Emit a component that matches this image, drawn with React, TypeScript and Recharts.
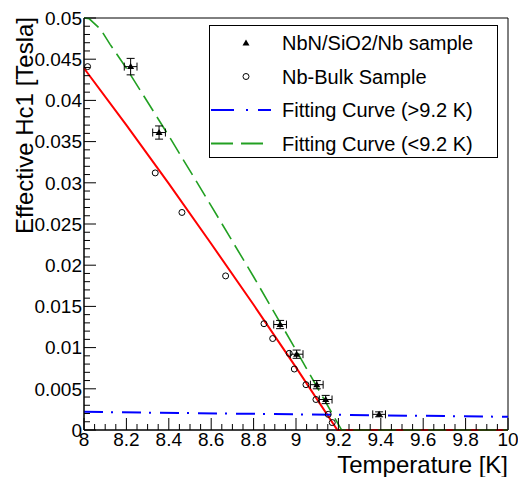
import { ComposedChart, Line, Scatter, XAxis, YAxis, ErrorBar, ReferenceArea, Legend, Label } from 'recharts'

const FONT = '"Liberation Sans", Arial, Helvetica, sans-serif'

const xTicks = [8, 8.2, 8.4, 8.6, 8.8, 9, 9.2, 9.4, 9.6, 9.8, 10]
const yTicks = [0, 0.005, 0.01, 0.015, 0.02, 0.025, 0.03, 0.035, 0.04, 0.045, 0.05]
// minor tick positions (0.05 K and 0.001 T steps)
const xMinorTicks = Array.from({ length: 41 }, (_, i) => +(8 + i * 0.05).toFixed(2))
const yMinorTicks = Array.from({ length: 51 }, (_, i) => +(i * 0.001).toFixed(3))

// NbN/SiO2/Nb sample
const filmT = [8.22, 8.354, 8.925, 9.003, 9.098, 9.14, 9.392]
const filmH = [0.0441, 0.0361, 0.0128, 0.0092, 0.0055, 0.0037, 0.0019]
const filmTErr = [0.03, 0.03, 0.03, 0.03, 0.03, 0.03, 0.03]
const filmHErr = [0.001, 0.0008, 0.0005, 0.0005, 0.0005, 0.0005, 0.0003]

// Nb-Bulk sample
const bulkT = [8.017, 8.336, 8.462, 8.668, 8.849, 8.89, 8.968, 8.992, 9.047, 9.094, 9.152, 9.171]
const bulkH = [0.0441, 0.0312, 0.0264, 0.0187, 0.0129, 0.0111, 0.0093, 0.0074, 0.0055, 0.0037, 0.0019, 0.0009]

// fit curves
const redT = [8, 8.2, 8.4, 8.6, 8.8, 9, 9.195, 10]
const redH = [0.0439, 0.037, 0.0299, 0.0226, 0.0152, 0.0076, 0, 0]
const greenT = [8, 8.025, 8.079, 8.123, 8.2, 8.4, 8.6, 8.8, 9, 9.215, 10]
const greenH = [0.05, 0.0499, 0.0486, 0.0468, 0.0439, 0.0357, 0.0272, 0.0186, 0.0097, 0, 0]
const blueT = [8, 9, 10]
const blueH = [0.0022, 0.0019, 0.0016]

const filmData = filmT.map((t, i) => ({ t, h: filmH[i], et: filmTErr[i], eh: filmHErr[i] }))
const bulkData = bulkT.map((t, i) => ({ t, h: bulkH[i] }))
const redData = redT.map((t, i) => ({ t, h: redH[i] }))
const greenData = greenT.map((t, i) => ({ t, h: greenH[i] }))
const blueData = blueT.map((t, i) => ({ t, h: blueH[i] }))

const legendItems = [
  { name: 'NbN/SiO2/Nb sample', kind: 'triangle' },
  { name: 'Nb-Bulk Sample', kind: 'circle' },
  { name: 'Fitting Curve (>9.2 K)', kind: 'blue' },
  { name: 'Fitting Curve (<9.2 K)', kind: 'green' },
]

const isMajor = (v: number, majors: number[]) => majors.some((m) => Math.abs(m - v) < 1e-9)

const Triangle = (p: any) => (
  <path d={`M${p.cx},${p.cy - 3.5}L${p.cx + 3.5},${p.cy + 2.5}L${p.cx - 3.5},${p.cy + 2.5}Z`} fill="#000" />
)
const OpenCircle = (p: any) => <circle cx={p.cx} cy={p.cy} r={3} fill="none" stroke="#000" strokeWidth={1} />

// ROOT style: ticks point into the frame, labels outside
const XTick = (p: any) => {
  const v = p.payload.value
  const major = isMajor(v, xTicks)
  const y0 = p.y - 3
  return (
    <g>
      <line x1={p.x} x2={p.x} y1={y0} y2={y0 - (major ? 12 : 6)} stroke="#000" />
      {major && <text x={p.x} y={p.y} dy="0.71em" textAnchor="middle" fontSize={19} fill="#000">{String(v)}</text>}
    </g>
  )
}

const YTick = (p: any) => {
  const v = p.payload.value
  const major = isMajor(v, yTicks)
  const x0 = p.x + 2
  return (
    <g>
      <line x1={x0} x2={x0 + (major ? 12 : 6)} y1={p.y} y2={p.y} stroke="#000" />
      {major && <text x={p.x} y={p.y} dy="0.355em" textAnchor="end" fontSize={19} fill="#000">{String(v)}</text>}
    </g>
  )
}

function LegendBox() {
  return (
    <div style={{ width: 289, height: 133, border: '1px solid #000', background: '#fff', boxSizing: 'border-box', fontFamily: FONT }}>
      <svg width={287} height={131}>
        {legendItems.map((it, i) => {
          const y = 17 + i * 33.5
          return (
            <g key={it.name}>
              {it.kind === 'triangle' && <Triangle cx={36} cy={y} />}
              {it.kind === 'circle' && <OpenCircle cx={36} cy={y} />}
              {it.kind === 'blue' && <line x1={1} x2={61} y1={y} y2={y} stroke="#0000ff" strokeWidth={2} strokeDasharray="23 12 2 10" />}
              {it.kind === 'green' && <line x1={1} x2={61} y1={y} y2={y} stroke="#22a022" strokeWidth={2} strokeDasharray="22 8" />}
              <text x={72} y={y + 7} fontSize={20} fill="#000">{it.name}</text>
            </g>
          )
        })}
      </svg>
    </div>
  )
}

export default function App() {
  return (
    <div style={{ position: 'absolute', left: 0, top: 0, background: '#fff' }}>
      <ComposedChart width={518} height={477} margin={{ top: 18, right: 10, bottom: 46, left: 83 }} style={{ fontFamily: FONT }}>
        <XAxis type="number" dataKey="t" domain={[8, 10]} ticks={xMinorTicks} interval={0} height={1}
          tickSize={0} tickMargin={3} tickLine={false} axisLine={{ stroke: '#000' }} tick={XTick}>
          <Label content={() => <text x={508} y={473} textAnchor="end" fontSize={24} fill="#000" fontFamily={FONT}>Temperature [K]</text>} />
        </XAxis>
        <YAxis type="number" dataKey="h" domain={[0, 0.05]} ticks={yMinorTicks} interval={0} width={1}
          tickSize={0} tickMargin={2} tickLine={false} axisLine={{ stroke: '#000' }} tick={YTick}>
          <Label content={() => <text x={33} y={17} transform="rotate(-90 33 17)" textAnchor="end" fontSize={24} fill="#000" fontFamily={FONT}>Effective Hc1 [Tesla]</text>} />
        </YAxis>

        <ReferenceArea x1={8} x2={10} y1={0} y2={0.05} fill="none" stroke="#000" strokeWidth={1} ifOverflow="visible" />

        <Line data={redData} dataKey="h" type="linear" stroke="#ff0000" strokeWidth={2} dot={false} legendType="none" isAnimationActive={false} />
        <Line data={greenData} dataKey="h" type="linear" stroke="#22a022" strokeWidth={1.6} strokeDasharray="18 7" dot={false} isAnimationActive={false} />
        <Line data={blueData} dataKey="h" type="linear" stroke="#0000ff" strokeWidth={2} strokeDasharray="19 8 2 9" dot={false} isAnimationActive={false} />

        <Scatter data={bulkData} dataKey="h" shape={OpenCircle} isAnimationActive={false} />
        <Scatter data={filmData} dataKey="h" shape={Triangle} isAnimationActive={false}>
          <ErrorBar dataKey="et" direction="x" width={4} stroke="#000" strokeWidth={1} />
          <ErrorBar dataKey="eh" direction="y" width={4} stroke="#000" strokeWidth={1} />
        </Scatter>

        <Legend layout="vertical" align="center" verticalAlign="middle"
          wrapperStyle={{ left: 209, top: 25, width: 289, height: 133 }} content={() => <LegendBox />} />
      </ComposedChart>
    </div>
  )
}
